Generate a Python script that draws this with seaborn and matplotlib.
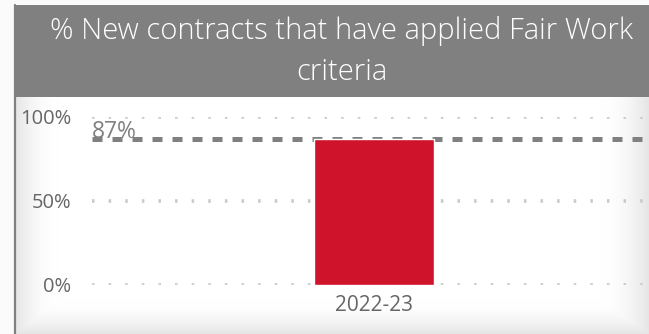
import numpy as np
import pandas as pd
import matplotlib
matplotlib.use("Agg")
import matplotlib.pyplot as plt
import seaborn as sns
from matplotlib.patches import Rectangle
from matplotlib.lines import Line2D

# Data
periods = ["2022-23"]
pct_applied = [0.87]
target_pct = 0.87
target_label = "87%"
y_ticks = [0.0, 0.5, 1.0]
y_tick_labels = ["0%", "50%", "100%"]
title_lines = ["% New contracts that have applied Fair Work", "criteria"]

df = pd.DataFrame({"period": periods, "pct": pct_applied})

sns.set_theme(style="white")
plt.rcParams["font.family"] = ["Open Sans", "DejaVu Sans"]

W, H = 649, 334
fig = plt.figure(figsize=(W / 100, H / 100), dpi=100)
fig.patch.set_facecolor("#fbfbfb")

def fx(px):
    return px / W

def fy(py):
    return 1 - py / H

# Panel background with a soft inner shadow along the edges
bg = fig.add_axes([fx(15), 0, 1 - fx(15), fy(97)])
bg.set_axis_off()
ny, nx = 240, 640
yy, xx = np.mgrid[0:ny, 0:nx]
dl = xx / 45.0
dr = (nx - 1 - xx) / 50.0
db = (ny - 1 - yy) / 35.0
d = np.clip(np.minimum(np.minimum(dl, dr), db), 0, 1)
shade = 1 - 0.10 * (1 - d) ** 2
bg.imshow(np.dstack([shade] * 3), aspect="auto", extent=[0, 1, 0, 1],
          interpolation="bilinear")
bg.set_xlim(0, 1)
bg.set_ylim(0, 1)

# Title band
fig.patches.append(Rectangle((fx(14), fy(97)), 1 - fx(14), fy(5) - fy(97),
                             transform=fig.transFigure, facecolor="#808080",
                             edgecolor="none", zorder=1))
fig.lines.append(Line2D([fx(15), fx(15)], [0, fy(5)], transform=fig.transFigure,
                        color="#808080", linewidth=1.6, zorder=2))
for line, ypx in zip(title_lines, [31, 72]):
    fig.text(fx(342), fy(ypx), line, ha="center", va="center", color="white",
             fontsize=21, fontweight="light", zorder=3)

# Plot area
ax = fig.add_axes([fx(92), fy(285), fx(645) - fx(92), fy(117) - fy(285)])
ax.patch.set_alpha(0)
sns.barplot(data=df, x="period", y="pct", color="#CE132B", width=0.8,
            saturation=1, ax=ax, zorder=3)

ax.set_ylim(0, 1)
ax.set_xlim(-1.88, 1.807)
ax.set_yticks(y_ticks)
ax.set_yticklabels(y_tick_labels)
for y in y_ticks:
    ax.axhline(y, color="#cacaca", linewidth=2.6, dashes=(0.7, 3.9),
               zorder=1)

ax.axhline(target_pct, color="#808080", linewidth=3.6, dashes=(2.0, 2.0),
           zorder=2)
ax.text(-1.88, target_pct + 0.005, target_label, ha="left", va="baseline",
        color="#808080", fontsize=16.5, zorder=4)

ax.tick_params(axis="y", length=0, pad=15, labelsize=14.5, labelcolor="#666666")
ax.tick_params(axis="x", length=0, pad=7, labelsize=15, labelcolor="#666666")
ax.set_xlabel("")
ax.set_ylabel("")
sns.despine(ax=ax, left=True, bottom=True)

fig.savefig("out.png", dpi=100, facecolor=fig.get_facecolor())
